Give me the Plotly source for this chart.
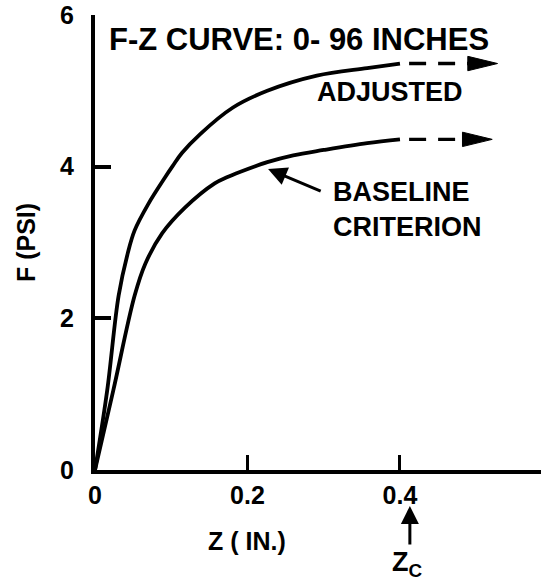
import plotly.graph_objects as go

# F-Z curves: deflection Z (in.) vs pressure F (psi)
z_adjusted = [0, 0.016, 0.031, 0.043, 0.052, 0.070, 0.092, 0.102, 0.114, 0.138, 0.181, 0.226, 0.291, 0.357, 0.400]
f_adjusted = [0, 1.05, 2.30, 2.86, 3.16, 3.51, 3.86, 4.01, 4.18, 4.43, 4.78, 5.00, 5.20, 5.30, 5.36]

z_baseline = [0, 0.024, 0.052, 0.066, 0.088, 0.118, 0.157, 0.173, 0.190, 0.226, 0.260, 0.300, 0.357, 0.400]
f_baseline = [0, 1.05, 2.30, 2.72, 3.12, 3.46, 3.78, 3.86, 3.93, 4.06, 4.15, 4.22, 4.31, 4.36]

# asymptotic extensions beyond the critical deflection
z_ext_start = 0.412
z_tip_adjusted = 0.528
z_tip_baseline = 0.521
f_limit_adjusted = 5.36
f_limit_baseline = 4.36

z_critical = 0.413

x_ticks = [0, 0.2, 0.4]
x_tick_text = ["0", "0.2", "0.4"]
y_ticks = [0, 2, 4, 6]
y_tick_text = ["0", "2", "4", "6"]

FONT = "Liberation Sans"
INK = "black"

# arrowhead size in axis units (long, narrow head)
HEAD_LEN = 0.039
HEAD_HALF = 0.095

fig = go.Figure()

for z, f in ((z_adjusted, f_adjusted), (z_baseline, f_baseline)):
    fig.add_trace(go.Scatter(
        x=z, y=f, mode="lines",
        line=dict(color=INK, width=3.8, shape="spline", smoothing=1.0),
        showlegend=False, hoverinfo="skip",
    ))

for tip, f_lim in ((z_tip_adjusted, f_limit_adjusted), (z_tip_baseline, f_limit_baseline)):
    # dashed continuation
    fig.add_trace(go.Scatter(
        x=[z_ext_start, tip - HEAD_LEN + 0.002], y=[f_lim, f_lim], mode="lines",
        line=dict(color=INK, width=3.4, dash="17px,12px"),
        showlegend=False, hoverinfo="skip",
    ))
    # filled arrowhead
    fig.add_trace(go.Scatter(
        x=[tip, tip - HEAD_LEN, tip - HEAD_LEN, tip],
        y=[f_lim, f_lim + HEAD_HALF, f_lim - HEAD_HALF, f_lim],
        mode="lines", fill="toself", fillcolor=INK,
        line=dict(color=INK, width=1),
        showlegend=False, hoverinfo="skip",
    ))

text_font = dict(family=FONT, size=27, color=INK, weight="bold")

annotations = [
    dict(x=0.0157, y=5.68, xref="x", yref="y", xanchor="left", yanchor="middle",
         text="F-Z CURVE: 0- 96 INCHES", showarrow=False,
         font=dict(family=FONT, size=31, color=INK, weight="bold")),
    dict(x=0.387, y=4.99, xref="x", yref="y", text="ADJUSTED",
         showarrow=False, font=text_font),
    dict(x=0.410, y=3.43, xref="x", yref="y", text="BASELINE<br>CRITERION",
         align="left", showarrow=False, font=text_font),
    # pointer to the baseline curve
    dict(x=0.227, y=3.97, ax=0.298, ay=3.67,
         xref="x", yref="y", axref="x", ayref="y",
         text="", showarrow=True, arrowhead=2, arrowsize=1.25,
         arrowwidth=3, arrowcolor=INK),
    # critical deflection marker below the axis
    dict(x=z_critical, y=-0.079, xref="x", yref="paper", ax=0, ay=40,
         text="", showarrow=True, arrowhead=2, arrowsize=1.2,
         arrowwidth=3, arrowcolor=INK),
    dict(x=z_critical - 0.003, y=-0.165, xref="x", yref="paper", yanchor="top",
         text="Z<sub>C</sub>", showarrow=False,
         font=dict(family=FONT, size=27, color=INK, weight="bold")),
    # x-axis title
    dict(x=0.199, y=-0.156, xref="x", yref="paper", yanchor="middle",
         text="Z ( IN.)", showarrow=False,
         font=dict(family=FONT, size=25, color=INK, weight="bold")),
]

fig.update_layout(
    width=541, height=584,
    margin=dict(l=95, r=0, t=15, b=114),
    paper_bgcolor="white", plot_bgcolor="white",
    annotations=annotations,
    xaxis=dict(
        range=[0, 0.585], showgrid=False, zeroline=False,
        showline=True, linewidth=4, linecolor=INK,
        ticks="inside", ticklen=15, tickwidth=3, tickcolor=INK,
        tickvals=x_ticks, ticktext=x_tick_text, ticklabelstandoff=0,
        tickfont=dict(family=FONT, size=25, color=INK, weight="bold"),
    ),
    yaxis=dict(
        range=[0, 6], showgrid=False, zeroline=False,
        showline=True, linewidth=4, linecolor=INK,
        ticks="inside", ticklen=16, tickwidth=4, tickcolor=INK,
        tickvals=y_ticks, ticktext=y_tick_text, ticklabelstandoff=12,
        tickfont=dict(family=FONT, size=25, color=INK, weight="bold"),
        title=dict(text="F (PSI)", standoff=18,
                   font=dict(family=FONT, size=25, color=INK, weight="bold")),
    ),
)

fig.write_html("out.html")
